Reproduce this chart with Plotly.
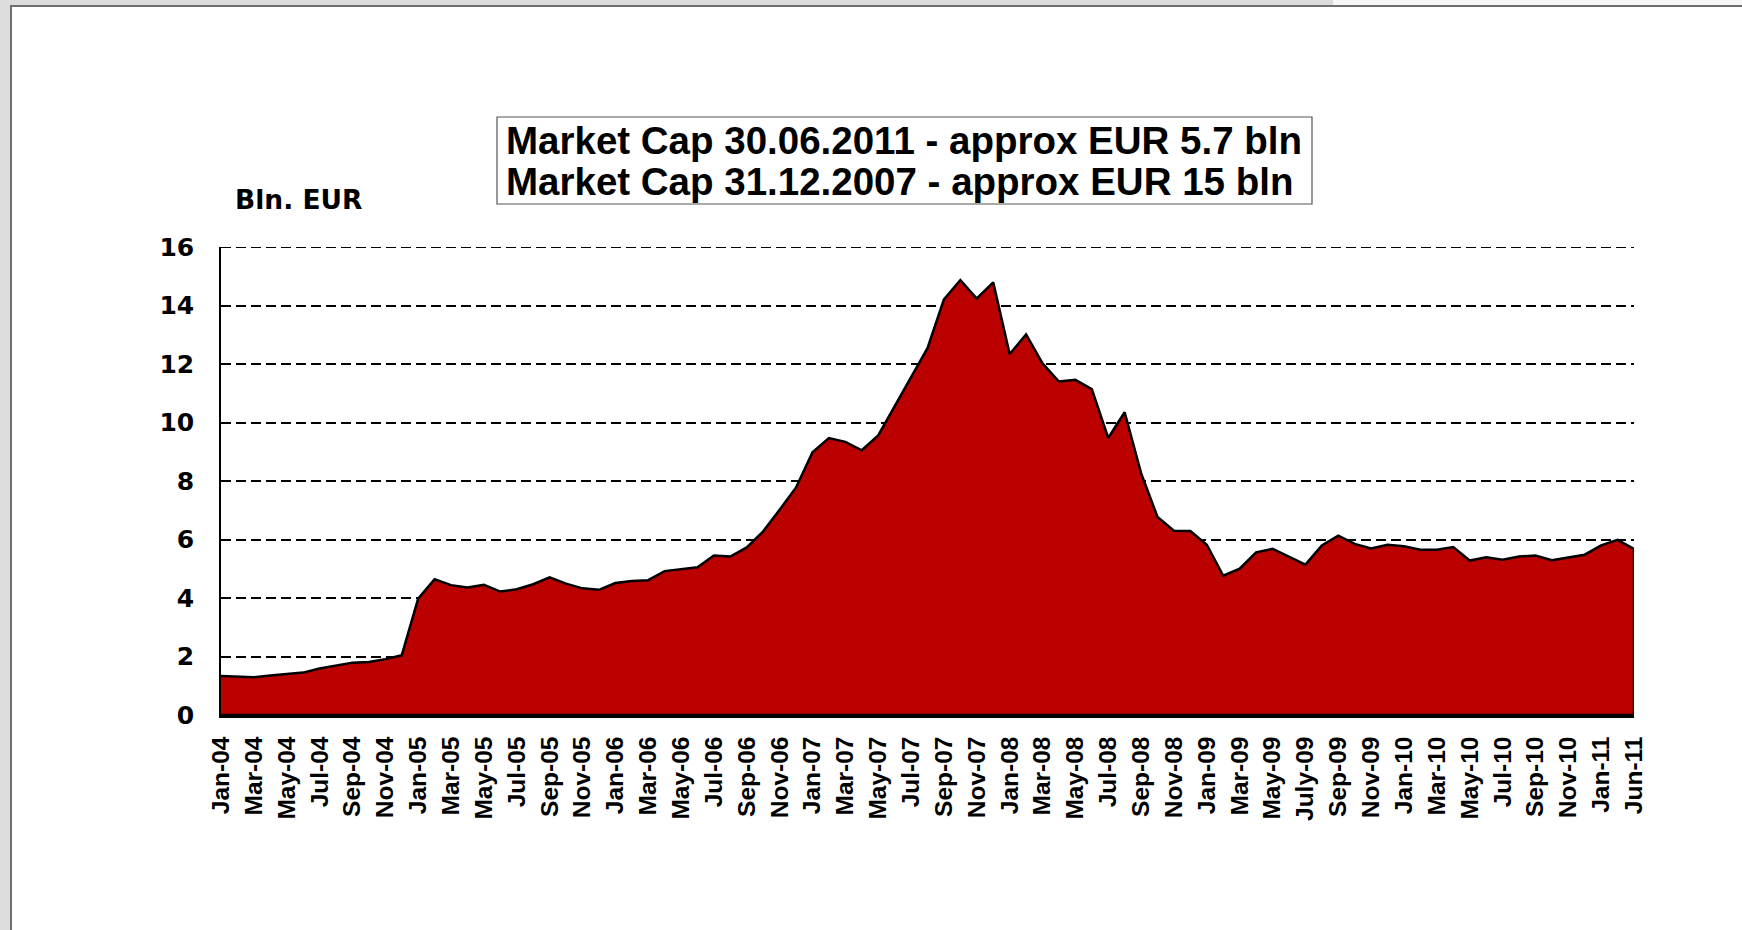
import plotly.graph_objects as go

# monthly points on the category axis (last one is Jun-11)
months = [
    "Jan-04", "Feb-04", "Mar-04", "Apr-04", "May-04", "Jun-04", "Jul-04", "Aug-04", "Sep-04", "Oct-04", "Nov-04", "Dec-04",
    "Jan-05", "Feb-05", "Mar-05", "Apr-05", "May-05", "Jun-05", "Jul-05", "Aug-05", "Sep-05", "Oct-05", "Nov-05", "Dec-05",
    "Jan-06", "Feb-06", "Mar-06", "Apr-06", "May-06", "Jun-06", "Jul-06", "Aug-06", "Sep-06", "Oct-06", "Nov-06", "Dec-06",
    "Jan-07", "Feb-07", "Mar-07", "Apr-07", "May-07", "Jun-07", "Jul-07", "Aug-07", "Sep-07", "Oct-07", "Nov-07", "Dec-07",
    "Jan-08", "Feb-08", "Mar-08", "Apr-08", "May-08", "Jun-08", "Jul-08", "Aug-08", "Sep-08", "Oct-08", "Nov-08", "Dec-08",
    "Jan-09", "Feb-09", "Mar-09", "Apr-09", "May-09", "Jun-09", "Jul-09", "Aug-09", "Sep-09", "Oct-09", "Nov-09", "Dec-09",
    "Jan-10", "Feb-10", "Mar-10", "Apr-10", "May-10", "Jun-10", "Jul-10", "Aug-10", "Sep-10", "Oct-10", "Nov-10", "Dec-10",
    "Jan-11", "Mar-11", "Jun-11",
]

market_cap = [
    1.33, 1.31, 1.29, 1.35, 1.40, 1.45, 1.59, 1.70, 1.79, 1.81, 1.91, 2.04,
    3.98, 4.64, 4.44, 4.36, 4.45, 4.22, 4.30, 4.47, 4.71, 4.49, 4.33, 4.28,
    4.51, 4.58, 4.61, 4.92, 4.99, 5.05, 5.45, 5.42, 5.73, 6.28, 7.02, 7.78,
    8.98, 9.47, 9.34, 9.05, 9.56, 10.55, 11.54, 12.54, 14.21, 14.87, 14.24, 14.79,
    12.34, 13.01, 12.02, 11.40, 11.46, 11.14, 9.47, 10.35, 8.27, 6.77, 6.30, 6.29,
    5.82, 4.76, 5.00, 5.56, 5.68, 5.42, 5.14, 5.80, 6.13, 5.85, 5.69, 5.82,
    5.77, 5.65, 5.65, 5.74, 5.28, 5.39, 5.31, 5.42, 5.45, 5.29, 5.38, 5.48,
    5.80, 5.99, 5.68,
]

tick_labels = [
    "Jan-04", "Mar-04", "May-04", "Jul-04", "Sep-04", "Nov-04",
    "Jan-05", "Mar-05", "May-05", "Jul-05", "Sep-05", "Nov-05",
    "Jan-06", "Mar-06", "May-06", "Jul-06", "Sep-06", "Nov-06",
    "Jan-07", "Mar-07", "May-07", "Jul-07", "Sep-07", "Nov-07",
    "Jan-08", "Mar-08", "May-08", "Jul-08", "Sep-08", "Nov-08",
    "Jan-09", "Mar-09", "May-09", "July-09", "Sep-09", "Nov-09",
    "Jan-10", "Mar-10", "May-10", "Jul-10", "Sep-10", "Nov-10",
    "Jan-11", "Jun-11",
]

y_ticks = [0, 2, 4, 6, 8, 10, 12, 14, 16]

title_lines = [
    "Market Cap 30.06.2011 - approx EUR 5.7 bln",
    "Market Cap 31.12.2007 - approx EUR 15 bln",
]

W, H = 1742, 930
L, R, T, B = 221, 108, 247, 215
PW, PH = W - L - R, H - T - B


def px(x):
    return (x - L) / PW


def py(y):
    return (H - B - y) / PH


fig = go.Figure()

# closed outline so the left/right edges get the black border too
fig.add_trace(go.Scatter(
    x=months + [months[-1], months[0]],
    y=market_cap + [0, 0],
    mode="lines",
    fill="toself",
    fillcolor="#BB0000",
    line=dict(color="black", width=2.5),
    hoverinfo="skip",
    showlegend=False,
))

shapes = [
    # slide frame
    dict(type="rect", xref="paper", yref="paper", x0=px(0), x1=px(W), y0=py(0), y1=py(6),
         fillcolor="#DCDCDC", line=dict(width=0), layer="below"),
    dict(type="rect", xref="paper", yref="paper", x0=px(1333), x1=px(W), y0=py(0), y1=py(5),
         fillcolor="#F6F6F6", line=dict(width=0), layer="below"),
    dict(type="rect", xref="paper", yref="paper", x0=px(0), x1=px(10), y0=py(0), y1=py(H),
         fillcolor="#DCDCDC", line=dict(width=0), layer="below"),
    dict(type="rect", xref="paper", yref="paper", x0=px(10), x1=px(W), y0=py(5), y1=py(7),
         fillcolor="#6E6E6E", line=dict(width=0), layer="below"),
    dict(type="rect", xref="paper", yref="paper", x0=px(10), x1=px(12), y0=py(5), y1=py(H),
         fillcolor="#6E6E6E", line=dict(width=0), layer="below"),
    # title box
    dict(type="rect", xref="paper", yref="paper", x0=px(497), x1=px(1312), y0=py(117), y1=py(204),
         fillcolor="white", line=dict(color="#555555", width=1.2), layer="below"),
    # top dashed line (plotly drops the gridline sitting on the plot edge)
    dict(type="line", xref="paper", yref="y", x0=0, x1=1, y0=y_ticks[-1], y1=y_ticks[-1],
         line=dict(color="black", width=1.8, dash="10px,5px"), layer="below"),
]

annotations = [
    dict(text=title_lines[0], xref="paper", yref="paper", x=px(504), y=py(141),
         xanchor="left", yanchor="middle", showarrow=False,
         font=dict(family="Liberation Sans", size=38.5, color="black", weight="bold")),
    dict(text=title_lines[1], xref="paper", yref="paper", x=px(504), y=py(181),
         xanchor="left", yanchor="middle", showarrow=False,
         font=dict(family="Liberation Sans", size=38.5, color="black", weight="bold")),
    dict(text="Bln. EUR", xref="paper", yref="paper", x=px(233), y=py(200),
         xanchor="left", yanchor="middle", showarrow=False,
         font=dict(family="DejaVu Sans", size=26.5, color="black", weight="bold")),
]

fig.update_layout(
    width=W,
    height=H,
    autosize=False,
    margin=dict(l=L, r=R, t=T, b=B),
    paper_bgcolor="white",
    plot_bgcolor="white",
    showlegend=False,
    shapes=shapes,
    annotations=annotations,
)

fig.update_xaxes(
    type="category",
    range=[0, len(months) - 1],
    tickmode="array",
    tickvals=months[::2],
    ticktext=tick_labels,
    tickangle=-90,
    tickfont=dict(family="Liberation Sans", size=24.5, color="black", weight="bold"),
    ticklabelstandoff=9,
    showgrid=False,
    showline=True,
    linecolor="black",
    linewidth=2.5,
    ticks="",
    zeroline=False,
)

fig.update_yaxes(
    range=[0, 16],
    tickvals=y_ticks,
    tickfont=dict(family="DejaVu Sans", size=25, color="black", weight="bold"),
    ticklabelstandoff=20,
    showgrid=True,
    gridcolor="black",
    gridwidth=1.8,
    griddash="10px,5px",
    showline=True,
    linecolor="black",
    linewidth=1.5,
    ticks="",
    zeroline=False,
)

fig.write_html(
    "out.html",
    config={"displayModeBar": False},
    post_script="document.body.style.margin='0px';",
)
